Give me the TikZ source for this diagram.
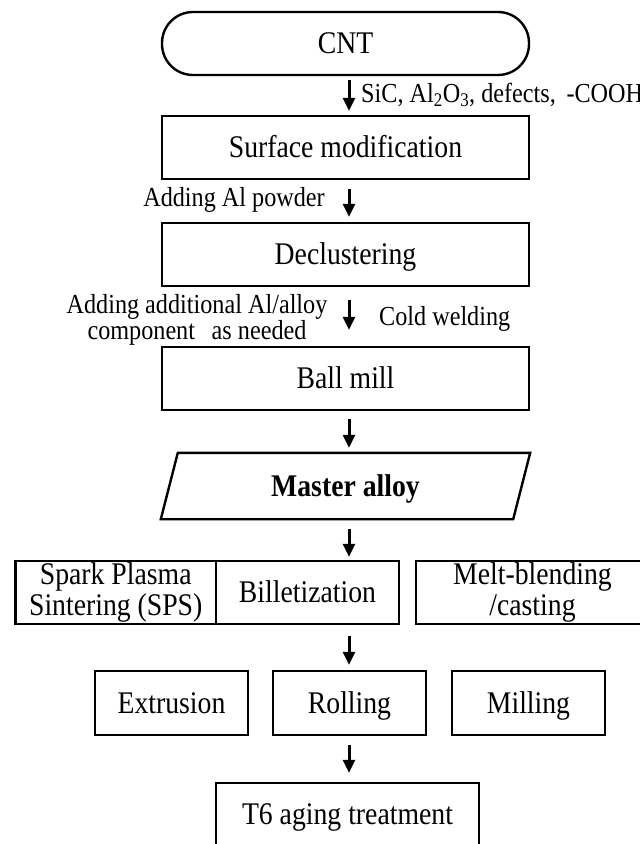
\documentclass[tikz,border=0pt]{standalone}
\usepackage{fontspec}
\setmainfont{Liberation Serif}[FakeStretch=0.88]
\usetikzlibrary{arrows.meta}
\begin{document}
\begin{tikzpicture}[x=1pt,y=1pt]
    \tikzstyle{every node}+=[inner sep=0pt]
    \tikzstyle{frame}=[draw=black, line width=2.4pt, minimum height=63pt, font=\fontsize{31.5}{31}\selectfont, align=center]
    \tikzstyle{box}=[frame, text height=22pt, text depth=2pt]
    \tikzstyle{note}=[font=\fontsize{27.5}{26}\selectfont, align=center]
    \tikzstyle{flow}=[black, line width=3pt, -{Triangle[width=12pt,length=13pt]}]
    \useasboundingbox (0,0) rectangle (640,-844);
    \coordinate (ax) at (349,0);
    \node[box, minimum width=367pt, rounded corners=31pt] (cnt) at (345.5,-43.5) {CNT};
    \node[box, minimum width=367pt] (surf) at (345.5,-147.5) {Surface modification};
    \node[box, minimum width=367pt] (decl) at (345.5,-254.5) {Declustering};
    \node[box, minimum width=367pt] (ball) at (345.5,-378.5) {Ball mill};
    \node[box, draw=none, minimum width=367pt, minimum height=64pt] (master) at (345.5,-486) {\textbf{Master alloy}};
    \draw [black, line width=2.4pt] (master.south west) -- ([xshift=-17pt]master.south east) -- (master.north east) -- ([xshift=17pt]master.north west) -- cycle;
    \node[frame, minimum width=200.5pt] (sps) at (115.75,-592.5) {Spark Plasma\\Sintering (SPS)};
    \node[box, minimum width=183pt] (billet) at (307.5,-592.5) {Billetization};
    \node[frame, minimum width=233pt] (melt) at (532.5,-592.5) {Melt-blending\\/casting};
    \node[box, minimum width=153pt, minimum height=64pt] (extr) at (171.5,-703) {Extrusion};
    \node[box, minimum width=153pt, minimum height=64pt] (roll) at (349.5,-703) {Rolling};
    \node[box, minimum width=153pt, minimum height=64pt] (mill) at (528.5,-703) {Milling};
    \node[box, minimum width=263pt] (aging) at (347.5,-814.5) {T6 aging treatment};
    % side notes
    \node[note, anchor=base west] (mods) at (361,-102) {SiC, Al\textsubscript{2}O\textsubscript{3}, defects, \,-COOH};
    \node[note, anchor=base east] (powder) at (325,-206) {Adding Al powder};
    \node[note] (extra) at (197,-320) {Adding additional Al/alloy\\component \ \,as needed};
    \node[note, anchor=base west] (weld) at (379,-325) {Cold welding};
    % arrows
    \draw [flow, shorten <=4pt, shorten >=4pt] (cnt.south -| ax) -- (surf.north -| ax);
    \draw [flow, shorten <=9pt, shorten >=5pt] (surf.south -| ax) -- (decl.north -| ax);
    \draw [flow, shorten <=13pt, shorten >=16pt] (decl.south -| ax) -- (ball.north -| ax);
    \draw [flow, shorten <=8pt, shorten >=5pt] (ball.south -| ax) -- (master.north -| ax);
    \draw [flow, shorten <=10pt, shorten >=3pt] (master.south -| ax) -- (billet.north -| ax);
    \draw [flow, shorten <=11pt, shorten >=5pt] (billet.south -| ax) -- (roll.north -| ax);
    \draw [flow, shorten <=9pt, shorten >=9pt] (roll.south -| ax) -- (aging.north -| ax);
\end{tikzpicture}
\end{document}
